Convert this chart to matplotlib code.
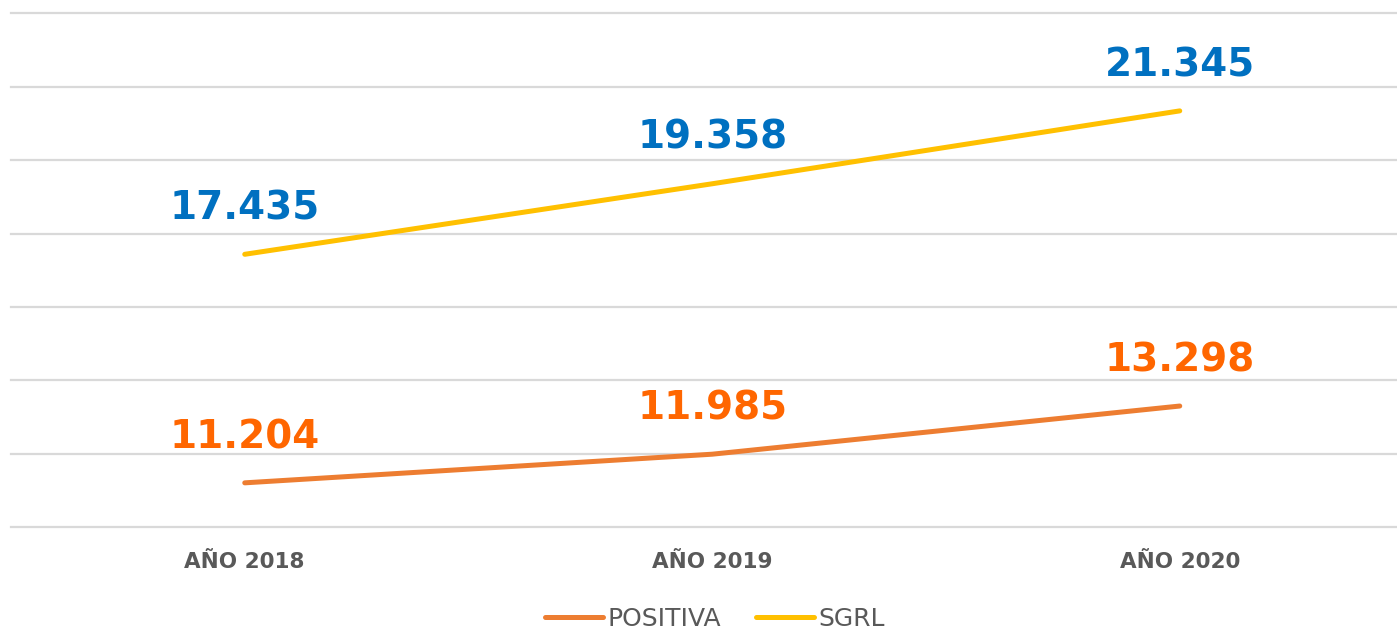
import matplotlib
matplotlib.use("Agg")
import matplotlib.pyplot as plt

years = ["AÑO 2018", "AÑO 2019", "AÑO 2020"]
positiva = [11204, 11985, 13298]
sgrl = [17435, 19358, 21345]
positiva_labels = ["11.204", "11.985", "13.298"]
sgrl_labels = ["17.435", "19.358", "21.345"]

GRID, TXT = "#d9d9d9", "#595959"
plt.rcParams["font.family"] = ["DejaVu Sans"]

fig = plt.figure(figsize=(13.97, 6.33), dpi=100)
ax = fig.add_axes([11 / 1397, 106 / 633, 1402.5 / 1397, 513.5 / 633])

x = range(len(years))
ax.plot(x, positiva, color="#ed7d31", lw=3.6, solid_capstyle="round", label="POSITIVA")
ax.plot(x, sgrl, color="#ffc000", lw=3.6, solid_capstyle="round", label="SGRL")

for xi, v, s in zip(x, positiva, positiva_labels):
    ax.annotate(s, (xi, v), textcoords="offset points", xytext=(0, 33),
                ha="center", va="center", fontsize=28, fontweight="bold",
                color="#ff6600")
for xi, v, s in zip(x, sgrl, sgrl_labels):
    ax.annotate(s, (xi, v), textcoords="offset points", xytext=(0, 33),
                ha="center", va="center", fontsize=28, fontweight="bold",
                color="#0070c0")

ax.set_xlim(-0.5, 2.5)
ax.set_ylim(10000, 24000)
for yv in range(10000, 24001, 2000):
    ax.axhline(yv, color=GRID, lw=1.6, zorder=0, clip_on=False)
ax.set_yticks([])
ax.tick_params(axis="x", length=0, pad=18)
ax.set_xticks(list(x))
ax.set_xticklabels(years, fontsize=15.5, fontweight="bold", color=TXT)
for sp in ax.spines.values():
    sp.set_visible(False)

leg = fig.legend(loc="center", bbox_to_anchor=(0.512, 0.022), ncol=2, frameon=False,
                 fontsize=18, handlelength=2.3, columnspacing=1.4, handletextpad=0.2)
for t in leg.get_texts():
    t.set_color(TXT)

fig.savefig("out.png", dpi=100)
